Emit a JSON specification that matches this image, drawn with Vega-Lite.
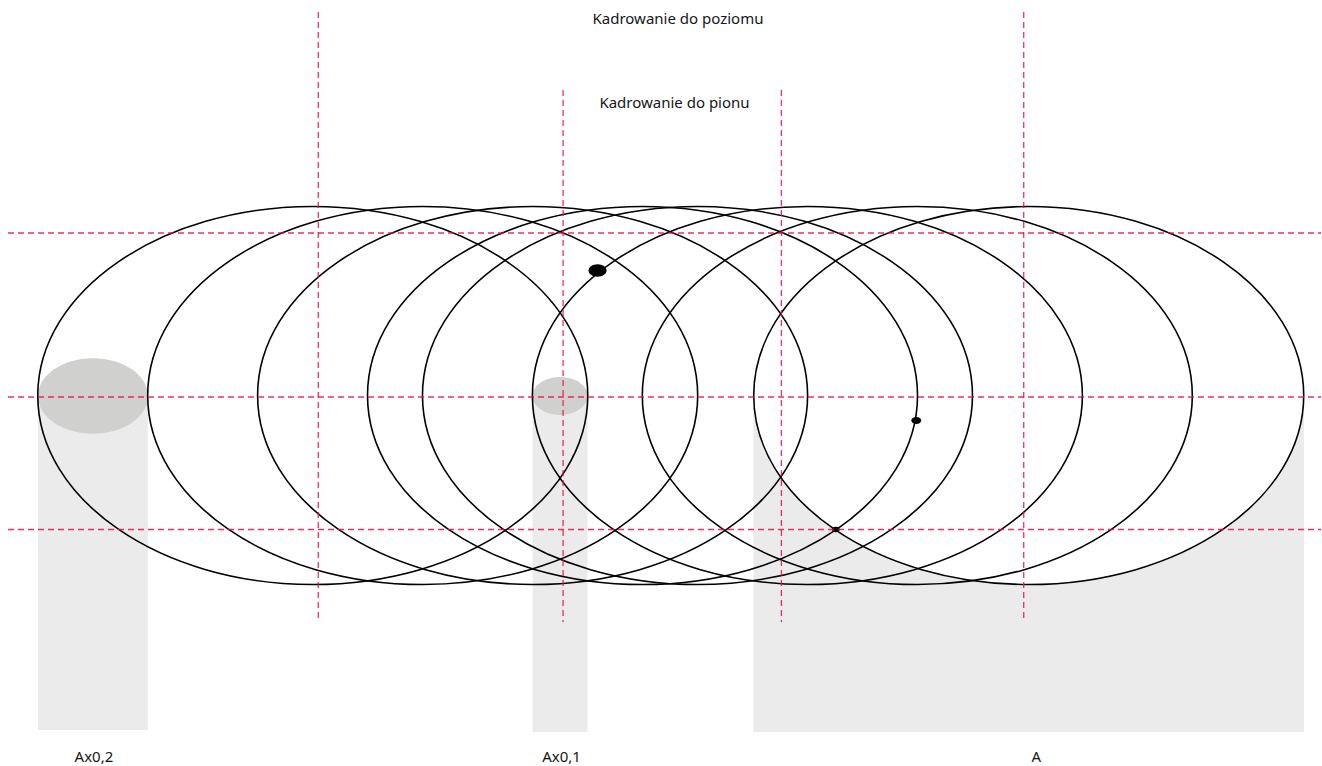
{
  "$schema": "https://vega.github.io/schema/vega-lite/v6.json",
  "width": 1322,
  "height": 766,
  "autosize": {"type": "fit", "contains": "padding"},
  "padding": 0,
  "background": "white",
  "config": {"view": {"stroke": null}, "axis": {"disable": true}, "legend": {"disable": true}},
  "datasets": {
    "cylinders": [
      {"label": "Ax0,2", "x0": 38, "x1": 148, "cx": 93, "top": 396, "bottom": 730, "w": 110},
      {"label": "Ax0,1", "x0": 533, "x1": 588, "cx": 560.5, "top": 396, "bottom": 732, "w": 55},
      {"label": "A", "x0": 754, "x1": 1305, "cx": 1029.5, "top": 396, "bottom": 732, "w": 551}
    ],
    "ellipses": [
      {"cx": 313, "cy": 395.5, "w": 550},
      {"cx": 423, "cy": 395.5, "w": 550},
      {"cx": 533, "cy": 395.5, "w": 550},
      {"cx": 643, "cy": 395.5, "w": 550},
      {"cx": 698, "cy": 395.5, "w": 550},
      {"cx": 808, "cy": 395.5, "w": 550},
      {"cx": 918, "cy": 395.5, "w": 550},
      {"cx": 1029.5, "cy": 395.5, "w": 550}
    ],
    "dots": [
      {"cx": 598, "cy": 270.5, "w": 18},
      {"cx": 917, "cy": 420.5, "w": 10},
      {"cx": 836.5, "cy": 529.5, "w": 8}
    ],
    "guides": [
      {"x": 8, "x2": 1322, "y": 233, "y2": 233},
      {"x": 8, "x2": 1322, "y": 397, "y2": 397},
      {"x": 8, "x2": 1322, "y": 529.5, "y2": 529.5},
      {"x": 318.5, "x2": 318.5, "y": 12, "y2": 622},
      {"x": 563.5, "x2": 563.5, "y": 90, "y2": 622},
      {"x": 782, "x2": 782, "y": 90, "y2": 622},
      {"x": 1024.5, "x2": 1024.5, "y": 12, "y2": 622}
    ],
    "texts": [
      {"text": "Kadrowanie do poziomu", "x": 678.5, "y": 19},
      {"text": "Kadrowanie do pionu", "x": 675, "y": 103},
      {"text": "Ax0,2", "x": 94, "y": 757},
      {"text": "Ax0,1", "x": 562, "y": 757},
      {"text": "A", "x": 1037, "y": 757}
    ]
  },
  "layer": [
    {
      "data": {"name": "cylinders"},
      "mark": {"type": "rect", "fill": "#ebebeb", "stroke": null},
      "encoding": {
        "x": {"field": "x0", "type": "quantitative", "scale": {"domain": [0, 1322], "nice": false, "zero": false}},
        "x2": {"field": "x1"},
        "y": {"field": "top", "type": "quantitative", "scale": {"domain": [0, 766], "nice": false, "zero": false, "reverse": true}},
        "y2": {"field": "bottom"}
      }
    },
    {
      "data": {"name": "cylinders"},
      "mark": {"type": "point", "filled": true, "opacity": 1, "strokeWidth": 0, "shape": "M -1 0 C -1 -0.3796 -0.5523 -0.6873 0 -0.6873 C 0.5523 -0.6873 1 -0.3796 1 0 C 1 0.3796 0.5523 0.6873 0 0.6873 C -0.5523 0.6873 -1 0.3796 -1 0 Z"},
      "encoding": {
        "x": {"field": "cx", "type": "quantitative", "scale": {"domain": [0, 1322], "nice": false, "zero": false}},
        "y": {"field": "top", "type": "quantitative", "scale": {"domain": [0, 766], "nice": false, "zero": false, "reverse": true}},
        "size": {"field": "w", "type": "quantitative", "scale": {"type": "pow", "exponent": 2, "domain": [0, 550], "range": [0, 302500], "zero": true}},
        "color": {"field": "label", "type": "nominal", "scale": {"domain": ["Ax0,2", "Ax0,1", "A"], "range": ["#d0d0cf", "#d0d0cf", "#ffffff"]}}
      }
    },
    {
      "data": {"name": "ellipses"},
      "mark": {"type": "point", "filled": false, "stroke": "#000000", "strokeWidth": 1.6, "opacity": 1, "fill": null, "shape": "M -1 0 C -1 -0.3796 -0.5523 -0.6873 0 -0.6873 C 0.5523 -0.6873 1 -0.3796 1 0 C 1 0.3796 0.5523 0.6873 0 0.6873 C -0.5523 0.6873 -1 0.3796 -1 0 Z"},
      "encoding": {
        "x": {"field": "cx", "type": "quantitative", "scale": {"domain": [0, 1322], "nice": false, "zero": false}},
        "y": {"field": "cy", "type": "quantitative", "scale": {"domain": [0, 766], "nice": false, "zero": false, "reverse": true}},
        "size": {"field": "w", "type": "quantitative", "scale": {"type": "pow", "exponent": 2, "domain": [0, 550], "range": [0, 302500], "zero": true}}
      }
    },
    {
      "data": {"name": "dots"},
      "mark": {"type": "point", "filled": true, "fill": "#000000", "opacity": 1, "strokeWidth": 0, "shape": "M -1 0 C -1 -0.3796 -0.5523 -0.6873 0 -0.6873 C 0.5523 -0.6873 1 -0.3796 1 0 C 1 0.3796 0.5523 0.6873 0 0.6873 C -0.5523 0.6873 -1 0.3796 -1 0 Z"},
      "encoding": {
        "x": {"field": "cx", "type": "quantitative", "scale": {"domain": [0, 1322], "nice": false, "zero": false}},
        "y": {"field": "cy", "type": "quantitative", "scale": {"domain": [0, 766], "nice": false, "zero": false, "reverse": true}},
        "size": {"field": "w", "type": "quantitative", "scale": {"type": "pow", "exponent": 2, "domain": [0, 550], "range": [0, 302500], "zero": true}}
      }
    },
    {
      "data": {"name": "guides"},
      "mark": {"type": "rule", "stroke": "#ee0a45", "strokeWidth": 1.3, "strokeDash": [6, 4], "opacity": 0.85},
      "encoding": {
        "x": {"field": "x", "type": "quantitative", "scale": {"domain": [0, 1322], "nice": false, "zero": false}},
        "x2": {"field": "x2"},
        "y": {"field": "y", "type": "quantitative", "scale": {"domain": [0, 766], "nice": false, "zero": false, "reverse": true}},
        "y2": {"field": "y2"}
      }
    },
    {
      "data": {"name": "texts"},
      "mark": {"type": "text", "font": "Noto Sans", "fontSize": 15, "color": "#161616", "align": "center", "baseline": "middle"},
      "encoding": {
        "x": {"field": "x", "type": "quantitative", "scale": {"domain": [0, 1322], "nice": false, "zero": false}},
        "y": {"field": "y", "type": "quantitative", "scale": {"domain": [0, 766], "nice": false, "zero": false, "reverse": true}},
        "text": {"field": "text"}
      }
    }
  ]
}
